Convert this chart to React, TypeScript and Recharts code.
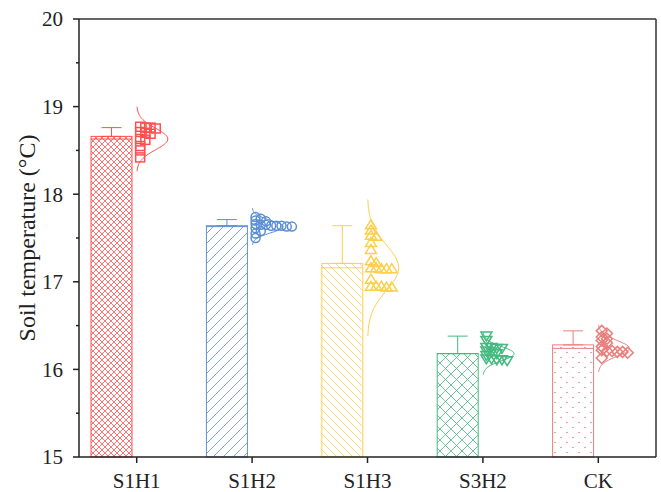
import React from 'react';
import {
  ComposedChart,
  Bar,
  ErrorBar,
  Scatter,
  Line,
  XAxis,
  YAxis,
  ReferenceLine,
  Label,
} from 'recharts';

const groups = ['S1H1', 'S1H2', 'S1H3', 'S3H2', 'CK'];

// box height, centre line and whisker end for each treatment (°C)
const boxTop = [18.66, 17.64, 17.21, 16.18, 16.28];
const centreLine = [18.63, 17.63, 17.16, 16.18, 16.24];
const whiskerTop = [18.76, 17.71, 17.64, 16.38, 16.44];
// spread of the fitted normal curve
const curveSd = [0.123, 0.07, 0.26, 0.08, 0.09];

// individual readings
const s1h1 = [18.77, 18.76, 18.76, 18.75, 18.71, 18.7, 18.69, 18.63, 18.62, 18.55, 18.5, 18.42];
const s1h2 = [17.74, 17.72, 17.7, 17.69, 17.66, 17.65, 17.65, 17.64, 17.64, 17.64, 17.63, 17.63, 17.61, 17.58, 17.55, 17.5];
const s1h3 = [17.65, 17.59, 17.53, 17.52, 17.45, 17.37, 17.24, 17.22, 17.16, 17.16, 17.15, 17.15, 17.15, 17.03, 16.95, 16.95, 16.95, 16.94, 16.94];
const s3h2 = [16.38, 16.33, 16.25, 16.25, 16.24, 16.24, 16.21, 16.2, 16.18, 16.16, 16.12, 16.12, 16.11, 16.11, 16.1];
const ck = [16.44, 16.41, 16.37, 16.35, 16.33, 16.3, 16.26, 16.22, 16.21, 16.21, 16.2, 16.2, 16.19, 16.13];

const readings = [s1h1, s1h2, s1h3, s3h2, ck];

const colors = ['#ff4f4f', '#5b8fd3', '#fcd04a', '#45b97f', '#e97f7c'];
const markers = ['square', 'circle', 'up', 'down', 'diamond'];

const Y_MIN = 15;
const Y_MAX = 20;
const yTicks = [15, 15.5, 16, 16.5, 17, 17.5, 18, 18.5, 19, 19.5, 20];
const AXIS_X = 79;
const FONT = '"Liberation Serif", "Times New Roman", serif';

const rows = groups.map((name, i) => ({
  name,
  idx: i,
  top: boxTop[i],
  centre: centreLine[i],
  up: whiskerTop[i] - boxTop[i],
}));

// spread overlapping readings sideways, to the right of the category centre
const SLOT = 0.045;
const CLEAR = 0.035;
function swarm(values: number[], centre: number) {
  const slots: number[][] = [];
  return values.map((y) => {
    let k = 0;
    while (slots[k] && slots[k].some((v) => Math.abs(v - y) < CLEAR)) k++;
    if (!slots[k]) slots[k] = [];
    slots[k].push(y);
    return { x: centre + 0.03 + k * SLOT, y };
  });
}

const points = readings.map((vals, i) => swarm(vals, i + 1));

// half normal curve standing on the category centre
const CURVE_WIDTH = 0.27;
const curves = groups.map((_, i) => {
  const c = centreLine[i];
  const s = curveSd[i];
  const out: { x: number; y: number }[] = [];
  for (let k = 0; k <= 60; k++) {
    const z = -3 + (6 * k) / 60;
    out.push({ x: i + 1 + CURVE_WIDTH * Math.exp(-0.5 * z * z), y: c + z * s });
  }
  return out;
});

const BoxShape = (props: any) => {
  const { x, y, width, height, payload } = props;
  const i = payload.idx;
  const lineY = y + (height * (payload.top - payload.centre)) / (payload.top - Y_MIN);
  return (
    <g>
      <rect x={x} y={y} width={width} height={height} fill={`url(#fill-${i})`} stroke={colors[i]} strokeWidth={1} />
      <line x1={x} x2={x + width} y1={lineY} y2={lineY} stroke={colors[i]} strokeWidth={1} />
    </g>
  );
};

const markerShape = (kind: string, color: string) => (p: any) => {
  const { cx, cy } = p;
  const common = { fill: 'none', stroke: color, strokeWidth: 1.5 };
  const r = 4.5;
  switch (kind) {
    case 'square':
      return <rect x={cx - r} y={cy - r} width={2 * r} height={2 * r} {...common} />;
    case 'circle':
      return <circle cx={cx} cy={cy} r={r} {...common} />;
    case 'up':
      return <polygon points={`${cx},${cy - 5} ${cx + 5.5},${cy + 4} ${cx - 5.5},${cy + 4}`} {...common} />;
    case 'down':
      return <polygon points={`${cx},${cy + 5} ${cx + 5.5},${cy - 4} ${cx - 5.5},${cy - 4}`} {...common} />;
    default:
      return <polygon points={`${cx},${cy - 5.5} ${cx + 5.5},${cy} ${cx},${cy + 5.5} ${cx - 5.5},${cy}`} {...common} />;
  }
};

const YTick = ({ y, payload }: any) => {
  const major = Number.isInteger(payload.value);
  return (
    <g>
      <line x1={AXIS_X} x2={AXIS_X - (major ? 6 : 3)} y1={y} y2={y} stroke="#222" strokeWidth={1.5} />
      {major && (
        <text x={AXIS_X - 16} y={y} dy="0.355em" textAnchor="end" fontFamily={FONT} fontSize={21} fill="#222">
          {payload.value}
        </text>
      )}
    </g>
  );
};

export default function App() {
  return (
    <div style={{ position: 'absolute', left: 0, top: 0, background: '#fff', fontFamily: FONT }}>
      <ComposedChart
        width={661}
        height={492}
        data={rows}
        margin={{ top: 19, right: 5, bottom: 0, left: 0 }}
        barGap={10}
      >
        <defs>
          <pattern id="fill-0" patternUnits="userSpaceOnUse" width={6} height={6}>
            <path d="M0,0L6,6M6,0L0,6" stroke={colors[0]} strokeWidth={0.8} />
          </pattern>
          <pattern id="fill-1" patternUnits="userSpaceOnUse" width={10} height={10}>
            <path d="M-2,2L2,-2M0,10L10,0M8,12L12,8" stroke={colors[1]} strokeWidth={0.8} />
          </pattern>
          <pattern id="fill-2" patternUnits="userSpaceOnUse" width={8} height={8}>
            <path d="M-2,6L2,10M0,0L8,8M6,-2L10,2" stroke={colors[2]} strokeWidth={0.8} />
          </pattern>
          <pattern id="fill-3" patternUnits="userSpaceOnUse" width={11} height={11}>
            <path d="M0,0L11,11M11,0L0,11" stroke={colors[3]} strokeWidth={0.8} />
          </pattern>
          <pattern id="fill-4" patternUnits="userSpaceOnUse" width={12} height={10}>
            <circle cx={3} cy={2.5} r={0.8} fill={colors[4]} />
            <circle cx={9} cy={7.5} r={0.8} fill={colors[4]} />
          </pattern>
        </defs>

        <XAxis
          xAxisId="cat"
          dataKey="name"
          type="category"
          height={35}
          tickSize={6}
          tickMargin={10}
          stroke="#222"
          axisLine={{ stroke: '#222', strokeWidth: 1.5 }}
          tickLine={{ stroke: '#222', strokeWidth: 1.5 }}
          tick={{ fontFamily: FONT, fontSize: 21, fill: '#222' }}
        />
        <XAxis xAxisId="num" dataKey="x" type="number" domain={[0.5, 5.5]} allowDataOverflow hide />
        <YAxis
          type="number"
          domain={[Y_MIN, Y_MAX]}
          ticks={yTicks}
          interval={0}
          width={AXIS_X}
          tickLine={false}
          axisLine={{ stroke: '#222', strokeWidth: 1.5 }}
          tick={<YTick />}
        >
          <Label
            content={({ viewBox }: any) => {
              const cx = viewBox.x + 27;
              const cy = viewBox.y + viewBox.height / 2;
              return (
                <text
                  x={cx}
                  y={cy}
                  transform={`rotate(-90 ${cx} ${cy})`}
                  textAnchor="middle"
                  dominantBaseline="central"
                  fontFamily={FONT}
                  fontSize={24}
                  fill="#222"
                >
                  Soil temperature (°C)
                </text>
              );
            }}
          />
        </YAxis>

        <ReferenceLine xAxisId="num" y={Y_MAX} stroke="#333" strokeWidth={1.5} />
        <ReferenceLine xAxisId="num" x={5.5} stroke="#333" strokeWidth={1.5} />

        <Bar xAxisId="cat" dataKey="top" barSize={41} shape={<BoxShape />} isAnimationActive={false}>
          {groups.map((g, i) => (
            <ErrorBar
              key={g}
              dataKey={(d: any) => (d.name === g ? [0, d.up] : null)}
              direction="y"
              width={10}
              stroke={colors[i]}
              strokeWidth={1}
              isAnimationActive={false}
            />
          ))}
        </Bar>
        {/* empty slot beside each bar, leaves room for the readings */}
        <Bar xAxisId="cat" dataKey="slot" barSize={41} isAnimationActive={false} />

        {curves.map((c, i) => (
          <Line
            key={`curve-${groups[i]}`}
            xAxisId="num"
            data={c}
            dataKey="y"
            type="linear"
            stroke={colors[i]}
            strokeWidth={1}
            dot={false}
            activeDot={false}
            isAnimationActive={false}
          />
        ))}
        {points.map((pts, i) => (
          <Scatter
            key={`pts-${groups[i]}`}
            xAxisId="num"
            data={pts}
            dataKey="y"
            shape={markerShape(markers[i], colors[i])}
            isAnimationActive={false}
          />
        ))}
      </ComposedChart>
    </div>
  );
}
